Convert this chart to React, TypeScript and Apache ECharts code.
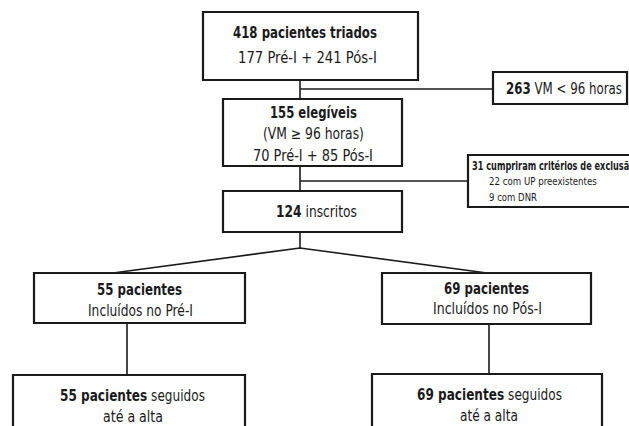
import React, { useEffect, useRef } from "react";
import * as echarts from "echarts";

// Flowchart content: each box is a list of lines, each line a list of [text, bold] segments
type Seg = [string, boolean];
const box1Lines: Seg[][] = [
  [["418 pacientes triados", true]],
  [["177 Pré-I + 241 Pós-I", false]],
];
const box2Lines: Seg[][] = [
  [["155 elegíveis", true]],
  [["(VM ≥ 96 horas)", false]],
  [["70 Pré-I + 85 Pós-I", false]],
];
const box3Lines: Seg[][] = [[["124", true], [" inscritos", false]]];
const preLines: Seg[][] = [
  [["55 pacientes", true]],
  [["Incluídos no Pré-I", false]],
];
const posLines: Seg[][] = [
  [["69 pacientes", true]],
  [["Incluídos no Pós-I", false]],
];
const preFollowLines: Seg[][] = [
  [["55 pacientes", true], [" seguidos", false]],
  [["até a alta", false]],
];
const posFollowLines: Seg[][] = [
  [["69 pacientes", true], [" seguidos", false]],
  [["até a alta", false]],
];
const sideLines: Seg[][] = [[["263", true], [" VM < 96 horas", false]]];
const exclusionLines: Seg[][] = [
  [["31 cumpriram critérios de exclusão", true]],
  [["22 com UP preexistentes", false]],
  [["9 com DNR", false]],
];

const FONT = "'Liberation Sans Narrow', 'DejaVu Sans Condensed', 'Roboto', sans-serif";
const INK = "#1a1a1a";

let ctx: CanvasRenderingContext2D | null = null;
function measure(text: string, bold: boolean, size: number) {
  if (!ctx) ctx = document.createElement("canvas").getContext("2d");
  if (!ctx) return text.length * size * 0.5;
  ctx.font = `${bold ? "bold " : ""}${size}px ${FONT}`;
  return ctx.measureText(text).width;
}

export default function App() {
  const ref = useRef<HTMLDivElement>(null);
  useEffect(() => {
    if (!ref.current) return;
    const chart = echarts.init(ref.current, null, { renderer: "svg" });
    const elements: any[] = [];

    const rect = (x: number, y: number, w: number, h: number) => ({
      type: "rect",
      shape: { x, y, width: w, height: h },
      style: { fill: "#fff", stroke: INK, lineWidth: 2.2 },
    });
    const line = (x1: number, y1: number, x2: number, y2: number) => ({
      type: "line",
      shape: { x1, y1, x2, y2 },
      style: { stroke: INK, lineWidth: 1.6 },
    });

    // place one line of segments: anchor "center" at cx, or "left" at x; fitted to target width
    const placeLine = (
      segs: Seg[],
      x: number,
      y: number,
      width: number,
      size: number,
      anchor: "center" | "left"
    ) => {
      const nat = segs.map(([t, b]) => measure(t, b, size));
      const total = nat.reduce((a, b) => a + b, 0);
      const s = width / total;
      let cur = anchor === "center" ? x - width / 2 : x;
      segs.forEach(([t, b], i) => {
        elements.push({
          type: "text",
          x: cur,
          y,
          scaleX: s,
          z: 10,
          style: {
            text: t,
            fontFamily: FONT,
            fontSize: size,
            fontWeight: b ? "bold" : "normal",
            fill: INK,
            align: "left",
            verticalAlign: "middle",
          },
        });
        cur += nat[i] * s;
      });
    };

    // connectors
    elements.push(line(300, 80, 300, 99));
    elements.push(line(300, 89, 493, 89));
    elements.push(line(300, 166, 300, 191));
    elements.push(line(300, 181, 468, 181));
    elements.push(line(300, 232, 300, 248));
    elements.push({
      type: "polyline",
      shape: { points: [[113, 273], [300, 248], [487, 273]] },
      style: { stroke: INK, lineWidth: 1.6, fill: "none" },
    });
    elements.push(line(127, 323, 127, 375));
    elements.push(line(489, 324, 489, 374));

    // boxes
    elements.push(rect(203, 12, 215, 68));
    elements.push(rect(223, 99, 179, 67));
    elements.push(rect(223, 191, 179, 41));
    elements.push(rect(34, 273, 211, 50));
    elements.push(rect(382, 273, 209, 51));
    elements.push(rect(13, 375, 232, 70));
    elements.push(rect(372, 374, 230, 70));
    elements.push(rect(493, 72, 134, 32));
    elements.push(rect(468, 155, 175, 52));

    // texts
    placeLine(box1Lines[0], 305, 33, 144, 15, "center");
    placeLine(box1Lines[1], 307.5, 57, 139, 15, "center");

    placeLine(box2Lines[0], 313.5, 113, 87, 15, "center");
    placeLine(box2Lines[1], 313.5, 134, 101, 15, "center");
    placeLine(box2Lines[2], 313, 155, 120, 15, "center");

    placeLine(box3Lines[0], 316.5, 212, 81, 15, "center");

    placeLine(preLines[0], 139.5, 290, 85, 15, "center");
    placeLine(preLines[1], 140.5, 311, 105, 15, "center");
    placeLine(posLines[0], 486.5, 289, 85, 15, "center");
    placeLine(posLines[1], 487.5, 309, 109, 15, "center");

    placeLine(preFollowLines[0], 132.5, 396, 145, 15, "center");
    placeLine(preFollowLines[1], 133, 417, 60, 15, "center");
    placeLine(posFollowLines[0], 489.5, 395, 145, 15, "center");
    placeLine(posFollowLines[1], 489, 416, 58, 15, "center");

    placeLine(sideLines[0], 506, 89, 116, 15, "left");

    placeLine(exclusionLines[0], 472, 166, 163, 11.5, "left");
    placeLine(exclusionLines[1], 489, 181, 108, 10.5, "left");
    placeLine(exclusionLines[2], 489, 197, 48, 10.5, "left");

    chart.setOption({
      animation: false,
      backgroundColor: "#fff",
      graphic: { elements },
    });
    return () => chart.dispose();
  }, []);
  return (
    <div
      ref={ref}
      style={{ position: "absolute", left: 0, top: 0, width: 629, height: 426 }}
    />
  );
}
